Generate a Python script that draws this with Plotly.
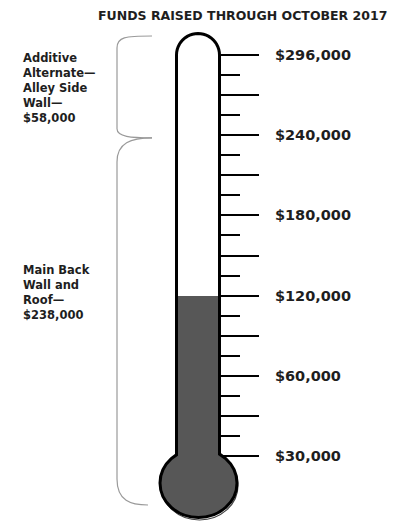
import numpy as np
import plotly.graph_objects as go

# ---------------- data ----------------
title_text = "FUNDS RAISED THROUGH OCTOBER 2017"
scale_labels = ["$30,000", "$60,000", "$120,000", "$180,000", "$240,000", "$296,000"]
scale_values = [30000, 60000, 120000, 180000, 240000, 296000]
scale_steps = [0, 4, 8, 12, 16, 20]          # notch index of each labelled value
major_notches = list(range(0, 21, 2))
minor_notches = list(range(1, 20, 2))
raised_amount = 120000
segment_names = ["Main Back<br>Wall and<br>Roof—<br>$238,000",
                 "Additive<br>Alternate—<br>Alley Side<br>Wall—<br>$58,000"]
segment_amounts = [238000, 58000]

# ---------------- layout helpers ----------------
W, H = 404, 521
OFF = 8              # page body margin
PX_STEP = 20.05      # pixels per notch
Y0 = 456.0           # pixel row of notch 0


def to_step(value):
    return float(np.interp(value, scale_values, scale_steps))


def pix(ypix):
    """pixel row -> notch coordinate (used only for decorative outline)"""
    return (Y0 - ypix) / PX_STEP


def bold(s):
    return "<br>".join("<b>" + part + "</b>" for part in s.split("<br>"))


ink = "#1e1e1e"
mercury = "#575757"
brace_col = "#9a9a9a"

fig = go.Figure()

# tube outline (decoration)
cx, r_cap, cap_cy = 198.0, 21.5, 55.0
left, right = cx - r_cap, cx + r_cap
pts = [(left, pix(472))]
for th in np.linspace(np.pi, 0, 25):
    pts.append((cx + r_cap * np.cos(th), pix(cap_cy - r_cap * np.sin(th))))
pts.append((right, pix(472)))
path = "M " + " L ".join(f"{x:.2f},{y:.4f}" for x, y in pts) + " Z"
shapes = [dict(type="path", path=path, xref="x", yref="y",
               fillcolor="white", line=dict(color="black", width=3), layer="below")]

# bulb (with faint shadow rim)
bulb_cx, bulb_cy, rx, ry = 198.5, 483.0, 38.5, 34.5
shapes.append(dict(type="circle", xref="x", yref="y",
                   x0=bulb_cx - rx + 1, x1=bulb_cx + rx + 1,
                   y0=pix(bulb_cy + ry + 2.5), y1=pix(bulb_cy - ry + 2.5),
                   fillcolor="rgba(0,0,0,0)", line=dict(color="#444444", width=1.2), layer="below"))
shapes.append(dict(type="circle", xref="x", yref="y",
                   x0=bulb_cx - rx, x1=bulb_cx + rx,
                   y0=pix(bulb_cy + ry), y1=pix(bulb_cy - ry),
                   fillcolor=mercury, line=dict(color="black", width=3), layer="below"))

# braces from segment totals
split = to_step(segment_amounts[0])
bx, tipx = 117.0, 152.0
top_s, bot_s = pix(36), pix(505)
upper = (f"M {tipx},{top_s} C {bx+8},{top_s} {bx},{top_s - 0.05} {bx},{top_s - 0.6} "
         f"L {bx},{split + 0.45} C {bx},{split + 0.05} {bx+14},{split} {tipx},{split}")
lower = (f"M {tipx},{split} C {bx+14},{split} {bx},{split - 0.25} {bx},{split - 1.2} "
         f"L {bx},{bot_s + 1.3} C {bx},{bot_s + 0.2} {bx+14},{bot_s} {tipx-4},{bot_s}")
for p in (upper, lower):
    shapes.append(dict(type="path", path=p, xref="x", yref="y",
                       line=dict(color=brace_col, width=1.2), layer="below"))

# mercury column (data)
base = pix(bulb_cy)
fig.add_trace(go.Bar(x=[cx], y=[to_step(raised_amount) - base], base=[base],
                     width=40, marker=dict(color=mercury, line=dict(width=0)),
                     hoverinfo="skip", showlegend=False))

ticktext = []
for n in major_notches:
    ticktext.append(scale_labels[scale_steps.index(n)] if n in scale_steps else "")

annotations = [
    dict(text=bold(title_text), x=242, y=pix(15), xref="x", yref="y", showarrow=False,
         font=dict(family="DejaVu Sans", size=12.5, color=ink), xanchor="center", yanchor="middle"),
    dict(text=bold(segment_names[1]),
         x=21, y=pix(49), xref="x", yref="y", showarrow=False, align="left",
         font=dict(family="DejaVu Sans", size=11.5, color=ink), xanchor="left", yanchor="top"),
    dict(text=bold(segment_names[0]),
         x=21, y=pix(261), xref="x", yref="y", showarrow=False, align="left",
         font=dict(family="DejaVu Sans", size=11.5, color=ink), xanchor="left", yanchor="top"),
]

PW, PH = W - OFF, H - OFF
fig.update_layout(
    width=PW, height=PH, margin=dict(l=0, r=0, t=0, b=0),
    paper_bgcolor="white", plot_bgcolor="white",
    shapes=shapes, annotations=annotations, bargap=0,
    xaxis=dict(range=[OFF, W], visible=False, fixedrange=True),
    yaxis=dict(range=[pix(H), pix(OFF)], anchor="free", position=(right + 0.5 - OFF) / PW,
               side="right", showline=False, showgrid=False, zeroline=False,
               tickmode="array", tickvals=major_notches, ticktext=ticktext,
               ticks="outside", ticklen=38, tickwidth=1.5, tickcolor="black",
               ticklabelstandoff=13,
               tickfont=dict(family="DejaVu Sans", size=14.5, color=ink, weight="bold"),
               minor=dict(tickmode="array", tickvals=minor_notches, ticks="outside",
                          ticklen=19, tickwidth=1.5, tickcolor="black"),
               automargin=False, fixedrange=True),
)

fig.write_html("out.html")
